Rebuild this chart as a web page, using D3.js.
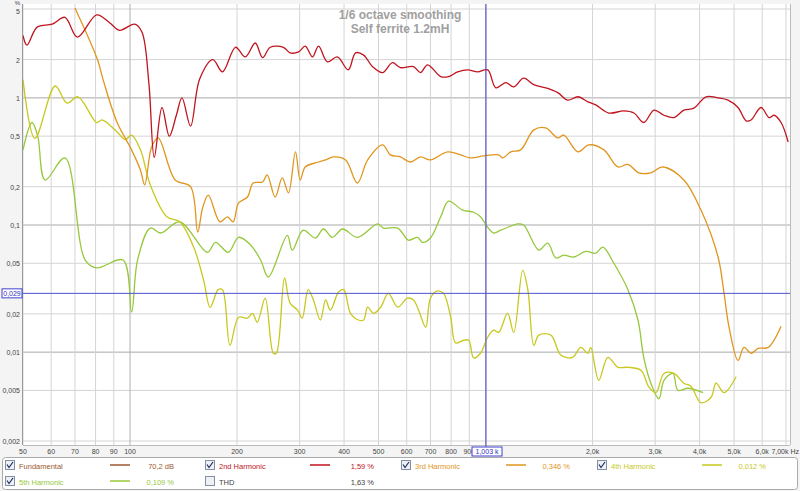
<!DOCTYPE html>
<html>
<head>
<meta charset="utf-8">
<title>Distortion</title>
<style>
  body { margin:0; background:#fff; }
  text { font-family: "Liberation Sans", Arial, sans-serif; }
</style>
</head>
<body>
<script src="https://cdn.jsdelivr.net/npm/d3@7/dist/d3.min.js"></script>
<script>
var width = 800, height = 491;

// [frequency Hz, distortion %]
var h2 = [[50,3.1],[51.3,2.6],[54.8,3.6],[60.4,3.8],[65.6,4.3],[71.1,3.0],[80.6,4.5],[87.6,3.9],[93.4,3.4],[103,3.8],[108,3.3],
  [113,1.3],[117,0.34],[123,0.84],[129,0.5],[135,0.73],[140,1.0],[148,0.6],[157,1.41],[171,2.0],[182,1.6],[198,2.5],[211,2.1],
  [225,2.7],[236,2.07],[248,2.5],[270,2.5],[282,2.26],[298,2.3],[311,2.55],[326,2.1],[339,2.55],[359,1.92],[383,2.1],[411,1.66],
  [431,2.26],[454,2.17],[481,1.76],[513,1.58],[547,1.89],[576,1.73],[627,1.76],[656,1.58],[687,1.82],[748,1.47],[787,1.47],
  [835,1.6],[891,1.66],[950,1.6],[1014,1.66],[1069,1.2],[1140,1.32],[1200,1.22],[1280,1.43],[1367,1.27],[1476,1.2],[1596,1.1],
  [1704,0.96],[1819,1.02],[1940,0.93],[2042,0.88],[2222,0.76],[2449,0.79],[2615,0.76],[2786,0.64],[2978,0.8],[3176,0.73],
  [3388,0.7],[3613,0.8],[3856,0.83],[4170,1.02],[4508,1.0],[4809,0.96],[5130,0.84],[5406,0.66],[5583,0.67],[5955,0.84],
  [6277,0.7],[6484,0.73],[6780,0.64],[7100,0.45]];

var h3 = [[70,5.1],[81,2.0],[84,1.39],[92,0.64],[101,0.39],[107,0.27],[110,0.207],[115,0.41],[120,0.485],[134,0.226],[148,0.2],
  [155,0.088],[160,0.136],[166,0.172],[179,0.106],[188,0.116],[195,0.106],[202,0.149],[214,0.166],[222,0.214],[236,0.218],
  [243,0.248],[256,0.166],[268,0.235],[279,0.179],[292,0.376],[301,0.226],[311,0.286],[332,0.308],[355,0.325],[373,0.343],
  [404,0.325],[436,0.214],[466,0.325],[513,0.427],[540,0.356],[576,0.343],[615,0.313],[656,0.343],[700,0.325],[782,0.376],
  [851,0.356],[908,0.337],[988,0.35],[1089,0.356],[1118,0.337],[1177,0.376],[1256,0.39],[1367,0.56],[1476,0.58],[1596,0.485],
  [1660,0.51],[1819,0.376],[1953,0.427],[2153,0.39],[2357,0.286],[2514,0.3],[2698,0.257],[2917,0.257],[3154,0.286],
  [3613,0.226],[4036,0.131],[4508,0.056],[4687,0.029],[4841,0.0157],[5130,0.0086],[5334,0.0109],[5583,0.0098],
  [5845,0.0107],[6236,0.0109],[6780,0.016]];

var h4 = [[50,1.39],[54,0.48],[61.6,1.24],[66.5,0.91],[71.4,1.02],[80.6,0.64],[83.4,0.67],[92,0.54],[97,0.47],[101,0.51],
  [107,0.39],[114,0.207],[127,0.116],[138,0.106],[151,0.067],[161,0.037],[168,0.0225],[177,0.031],[182,0.031],[191,0.0113],
  [202,0.0188],[214,0.0185],[221,0.0202],[228,0.0172],[240,0.0266],[253,0.0098],[258,0.0098],[272,0.0383],[282,0.0243],
  [296,0.0214],[305,0.0185],[317,0.031],[328,0.0257],[343,0.0179],[355,0.0257],[366,0.0214],[386,0.0297],[399,0.031],
  [417,0.0202],[439,0.0179],[454,0.0179],[466,0.0226],[484,0.0202],[507,0.0226],[533,0.029],[566,0.0226],[603,0.0266],
  [627,0.0257],[648,0.0214],[679,0.0157],[700,0.0266],[733,0.0303],[762,0.029],[798,0.0188],[824,0.0118],[868,0.0124],
  [897,0.0124],[926,0.009],[968,0.0098],[1014,0.0131],[1054,0.0149],[1089,0.0143],[1153,0.0202],[1200,0.0143],
  [1272,0.044],[1315,0.031],[1367,0.0113],[1412,0.0136],[1527,0.0136],[1628,0.0095],[1758,0.0091],[1853,0.0109],
  [1940,0.0098],[1977,0.0109],[2082,0.006],[2208,0.0091],[2357,0.0076],[2514,0.0076],[2735,0.0072],[2882,0.0053],
  [3015,0.0048],[3176,0.0068],[3388,0.0068],[3613,0.0057],[3780,0.0054],[4036,0.004],[4306,0.0044],[4450,0.0057],
  [4687,0.0048],[5068,0.0064]];

var h5 = [[50,0.39],[53,0.64],[55,0.5],[57.7,0.226],[65.6,0.337],[74.8,0.053],[80.6,0.046],[95.6,0.053],[101,0.0207],
  [105,0.053],[114,0.0946],[122,0.0865],[138,0.106],[165,0.061],[174,0.073],[189,0.061],[202,0.08],[218,0.07],[233,0.053],
  [245,0.039],[277,0.083],[286,0.0635],[307,0.091],[332,0.079],[350,0.093],[371,0.08],[396,0.093],[436,0.08],[497,0.102],
  [516,0.0946],[566,0.0946],[607,0.076],[644,0.08],[665,0.073],[700,0.079],[748,0.116],[787,0.154],[862,0.131],[926,0.126],
  [968,0.116],[1014,0.096],[1054,0.0865],[1104,0.091],[1232,0.102],[1280,0.1],[1412,0.0635],[1496,0.072],[1577,0.055],
  [1660,0.058],[1770,0.056],[1914,0.062],[2042,0.06],[2137,0.067],[2296,0.05],[2514,0.031],[2684,0.0179],[2786,0.0091],
  [2917,0.0057],[3074,0.0043],[3176,0.006],[3366,0.0068],[3475,0.005],[3709,0.0052],[4091,0.0048]];

var yTicks = [5, 2, 1, 0.5, 0.2, 0.1, 0.05, 0.02, 0.01, 0.005, 0.002];
var yTickLabels = ["5","2","1","0,5","0,2","0,1","0,05","0,02","0,01","0,005","0,002"];
var xTicks = [50,60,70,80,90,100,200,300,400,500,600,700,800,900,2000,3000,4000,5000,6000,7000];
var xTickLabels = ["50","60","70","80","90","100","200","300","400","500","600","700","800","900","2,0k","3,0k","4,0k","5,0k","6,0k","7,00k Hz"];
var cursorX = 1003, cursorY = 0.029;

var series = [
  {name:"Fundamental", color:"#9b5a32", value:"70,2 dB", data:null},
  {name:"2nd Harmonic", color:"#c0141e", value:"1,59 %", data:h2},
  {name:"3rd Harmonic", color:"#e0961e", value:"0,346 %", data:h3},
  {name:"4th Harmonic", color:"#c8c81e", value:"0,012 %", data:h4},
  {name:"5th Harmonic", color:"#96c83c", value:"0,109 %", data:h5},
  {name:"THD", color:null, value:"1,63 %", data:null}
];

var x = d3.scaleLog().domain([50, 7000]).range([23, 786]);
var y = d3.scaleLog().domain([0.002, 5]).range([441, 9]);

var svg = d3.select("body").append("svg").attr("width", width).attr("height", height);
svg.append("rect").attr("width", width).attr("height", height).attr("fill", "#f4f4f4");
svg.append("rect").attr("x", 23).attr("y", 4).attr("width", 767).attr("height", 441).attr("fill", "#fff");

// grid
var decadeY = [1, 0.1, 0.01];
svg.selectAll(".gy").data(yTicks).enter().append("line")
  .attr("x1", 23).attr("x2", 790).attr("y1", d => y(d)).attr("y2", d => y(d))
  .attr("stroke", d => decadeY.indexOf(d) >= 0 ? "#a8a8a8" : "#d4d4d4").attr("stroke-width", 1);
svg.selectAll(".gx").data(xTicks.concat([1000])).enter().append("line")
  .attr("y1", 4).attr("y2", 445).attr("x1", d => x(d)).attr("x2", d => x(d))
  .attr("stroke", d => (d == 100 || d == 1000) ? "#b0b0b0" : "#d4d4d4").attr("stroke-width", 1);
svg.append("line").attr("x1", 22.5).attr("x2", 22.5).attr("y1", 4).attr("y2", 445).attr("stroke", "#999");
svg.append("line").attr("x1", 790.5).attr("x2", 790.5).attr("y1", 4).attr("y2", 445).attr("stroke", "#bbb");
svg.append("line").attr("x1", 23).attr("x2", 790).attr("y1", 445.5).attr("y2", 445.5).attr("stroke", "#bbb");

// tick labels
svg.selectAll(".ty").data(yTicks).enter().append("text")
  .attr("x", 20).attr("y", d => y(d) + 3).attr("dy", (d, i) => i == 0 ? 2 : 0).attr("text-anchor", "end")
  .attr("font-size", 7).attr("fill", "#444").text((d, i) => yTickLabels[i]);
svg.append("text").attr("x", 20).attr("y", 5).attr("text-anchor", "end").attr("font-size", 6).attr("fill", "#444").text("%");
svg.selectAll(".tx").data(xTicks).enter().append("text")
  .attr("x", d => x(d)).attr("y", 454).attr("text-anchor", (d, i) => i == xTicks.length - 1 ? "end" : "middle")
  .attr("dx", (d, i) => i == xTicks.length - 1 ? 13 : 0)
  .attr("font-size", 7).attr("fill", "#444").text((d, i) => xTickLabels[i]);

// title
svg.append("text").attr("x", 400).attr("y", 19).attr("text-anchor", "middle").attr("font-size", 12)
  .attr("font-weight", "bold").attr("fill", "#a0a0a0").text("1/6 octave smoothing");
svg.append("text").attr("x", 400).attr("y", 33).attr("text-anchor", "middle").attr("font-size", 12)
  .attr("font-weight", "bold").attr("fill", "#a0a0a0").text("Self ferrite 1.2mH");

// curves
svg.append("clipPath").attr("id", "clip").append("rect")
  .attr("x", 23).attr("y", 4).attr("width", 767).attr("height", 441);
var line = d3.line().x(d => x(d[0])).y(d => y(d[1])).curve(d3.curveCatmullRom.alpha(0.5));
[series[4], series[3], series[2], series[1]].forEach(function(s) {
  svg.append("path").datum(s.data).attr("d", line).attr("fill", "none")
    .attr("stroke", s.color).attr("stroke-width", 1.3).attr("clip-path", "url(#clip)");
});

// cursor
svg.append("line").attr("x1", x(cursorX)).attr("x2", x(cursorX)).attr("y1", 4).attr("y2", 447)
  .attr("stroke", "#5050d0").attr("stroke-width", 1);
svg.append("line").attr("x1", 23).attr("x2", 790).attr("y1", y(cursorY)).attr("y2", y(cursorY))
  .attr("stroke", "#5050d0").attr("stroke-width", 1);
svg.append("rect").attr("x", x(cursorX) - 14).attr("y", 447).attr("width", 30).attr("height", 9)
  .attr("fill", "#fff").attr("stroke", "#4040d0");
svg.append("text").attr("x", x(cursorX) + 1).attr("y", 454).attr("text-anchor", "middle").attr("font-size", 7)
  .attr("fill", "#3030c0").text("1,003 k");
svg.append("rect").attr("x", 2).attr("y", y(cursorY) - 4.5).attr("width", 20).attr("height", 9)
  .attr("fill", "#fff").attr("stroke", "#4040d0");
svg.append("text").attr("x", 12).attr("y", y(cursorY) + 2.5).attr("text-anchor", "middle").attr("font-size", 7)
  .attr("fill", "#3030c0").text("0,029");

// legend
svg.append("rect").attr("x", 2.5).attr("y", 457.5).attr("width", 795).attr("height", 32).attr("rx", 3)
  .attr("fill", "#fff").attr("stroke", "#aaa");
var colX = [5, 205, 401, 597], rowY = [466, 482];
var leg = svg.selectAll(".leg").data(series).enter().append("g")
  .attr("transform", (d, i) => "translate(" + colX[i % 4] + "," + rowY[Math.floor(i / 4)] + ")");
leg.append("rect").attr("x", 0.5).attr("y", -5.5).attr("width", 9).attr("height", 9)
  .attr("fill", "#eef0f4").attr("stroke", "#8090a8");
leg.filter(d => d.color).append("path").attr("d", "M2,-1.5 L4,1.5 L8,-4").attr("fill", "none")
  .attr("stroke", "#203060").attr("stroke-width", 1.2);
leg.append("text").attr("x", 14).attr("y", 2.5).attr("font-size", 7.5)
  .attr("fill", d => d.color ? d.color : "#444").text(d => d.name);
leg.filter(d => d.color).append("line").attr("x1", 105).attr("x2", 125).attr("y1", -1).attr("y2", -1)
  .attr("stroke", d => d.color).attr("stroke-width", 1.5);
leg.append("text").attr("x", 169).attr("y", 2.5).attr("text-anchor", "end").attr("font-size", 7.5)
  .attr("fill", d => d.color ? d.color : "#444").text(d => d.value);
</script>
</body>
</html>
